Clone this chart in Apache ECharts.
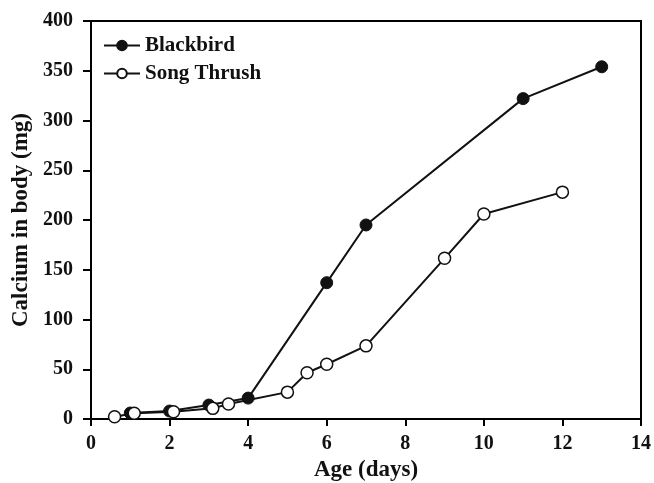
<!DOCTYPE html>
<html>
<head>
<meta charset="utf-8">
<script src="https://cdn.jsdelivr.net/npm/echarts@6/dist/echarts.min.js"></script>
<style>html,body{margin:0;padding:0;background:#fff}#c{width:654px;height:483px}</style>
</head>
<body>
<div id="c"></div>
<script>
const blackbirdAge = [1.0, 2.0, 3.0, 4.0, 6.0, 7.0, 11.0, 13.0];
const blackbirdCa  = [6, 8, 14, 21, 137, 195, 322, 354];
const thrushAge = [0.6, 1.1, 2.1, 3.1, 3.5, 5.0, 5.5, 6.0, 7.0, 9.0, 10.0, 12.0];
const thrushCa  = [2.3, 5.7, 7.3, 10.7, 15, 27, 46.5, 55, 73.5, 161.5, 206, 228];
const seriesNames = ['Blackbird', 'Song Thrush'];
const xTitle = 'Age (days)';
const yTitle = 'Calcium in body (mg)';

const font = '"Liberation Serif", "Times New Roman", serif';
const pair = (xs, ys) => xs.map((x, i) => [x, ys[i]]);

const chart = echarts.init(document.getElementById('c'), null, {renderer: 'canvas'});
chart.setOption({
  animation: false,
  backgroundColor: '#fff',
  grid: {left: 91, right: 13, top: 21, bottom: 64, show: true, borderColor: '#000', borderWidth: 2, backgroundColor: 'transparent', containLabel: false, outerBoundsMode: 'none'},
  legend: {
    orient: 'vertical', left: 98, top: 30, itemGap: 7, itemWidth: 36, itemHeight: 12,
    textStyle: {fontFamily: font, fontWeight: 'bold', fontSize: 21, color: '#111'},
    data: seriesNames
  },
  xAxis: {
    type: 'value', min: 0, max: 14, interval: 2,
    name: xTitle, nameLocation: 'middle', nameGap: 39,
    nameTextStyle: {fontFamily: font, fontWeight: 'bold', fontSize: 23, color: '#111'},
    axisLine: {lineStyle: {color: '#000', width: 2}},
    axisTick: {show: true, inside: false, length: 7, lineStyle: {color: '#000', width: 2}},
    axisLabel: {fontFamily: font, fontWeight: 'bold', fontSize: 20, color: '#111', margin: 15},
    splitLine: {show: false}
  },
  yAxis: {
    type: 'value', min: 0, max: 400, interval: 50,
    name: yTitle, nameLocation: 'middle', nameGap: 48, nameRotate: 90,
    nameTextStyle: {fontFamily: font, fontWeight: 'bold', fontSize: 23, color: '#111'},
    axisLine: {lineStyle: {color: '#000', width: 2}},
    axisTick: {show: true, inside: false, length: 8, lineStyle: {color: '#000', width: 2}},
    axisLabel: {fontFamily: font, fontWeight: 'bold', fontSize: 20, color: '#111', margin: 18},
    splitLine: {show: false}
  },
  series: [
    {
      name: seriesNames[0], type: 'line', data: pair(blackbirdAge, blackbirdCa),
      symbol: 'circle', symbolSize: 12,
      lineStyle: {color: '#111', width: 2},
      itemStyle: {color: '#111', borderColor: '#111', borderWidth: 1}
    },
    {
      name: seriesNames[1], type: 'line', data: pair(thrushAge, thrushCa),
      symbol: 'circle', symbolSize: 12,
      lineStyle: {color: '#111', width: 2},
      itemStyle: {color: '#fff', borderColor: '#111', borderWidth: 1.5}
    }
  ]
});
</script>
</body>
</html>
